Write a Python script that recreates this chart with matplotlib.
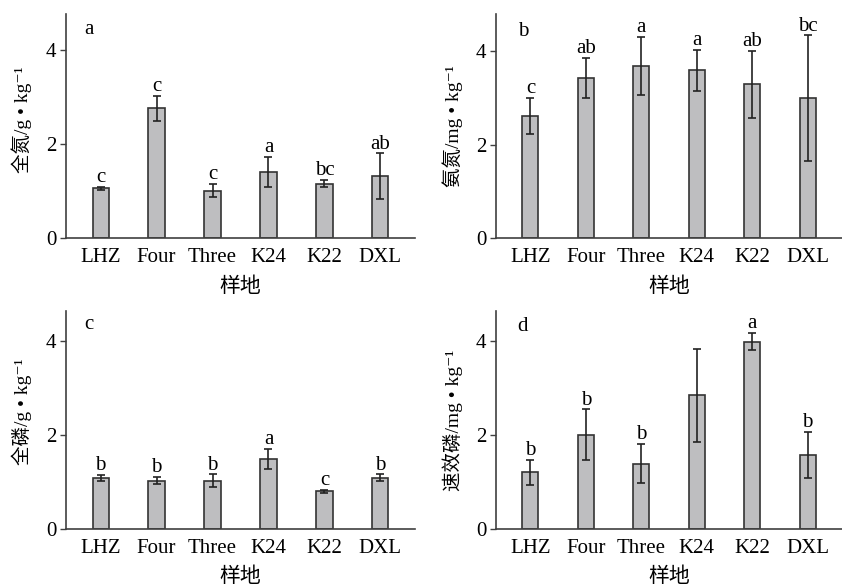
import matplotlib
matplotlib.use("Agg")
import matplotlib.pyplot as plt
import numpy as np

plt.rcParams['font.family'] = ['Liberation Serif', 'Noto Sans CJK SC', 'DejaVu Sans']

sites = ["LHZ", "Four", "Three", "K24", "K22", "DXL"]

# a: total nitrogen
tn_mean = [1.06, 2.76, 1.01, 1.40, 1.16, 1.31]
tn_err = [0.03, 0.27, 0.14, 0.32, 0.08, 0.49]
tn_sig = ["c", "c", "c", "a", "bc", "ab"]

# b: ammonium nitrogen
an_mean = [2.62, 3.42, 3.69, 3.59, 3.29, 3.00]
an_err = [0.39, 0.43, 0.62, 0.44, 0.72, 1.34]
an_sig = ["c", "ab", "a", "a", "ab", "bc"]

# c: total phosphorus
tp_mean = [1.08, 1.03, 1.03, 1.49, 0.80, 1.09]
tp_err = [0.07, 0.07, 0.13, 0.21, 0.035, 0.07]
tp_sig = ["b", "b", "b", "a", "c", "b"]

# d: available phosphorus
ap_mean = [1.20, 2.00, 1.39, 2.84, 3.98, 1.58]
ap_err = [0.26, 0.54, 0.41, 0.99, 0.18, 0.49]
ap_sig = ["b", "b", "b", "", "a", "b"]

ylabels = ["全氮/g • kg⁻¹", "氨氮/mg • kg⁻¹", "全磷/g • kg⁻¹", "速效磷/mg • kg⁻¹"]
panel_tags = ["a", "b", "c", "d"]

W, H = 842, 587
# axes boxes in pixels: left, top, right, bottom
boxes = [(66, 14, 415, 238), (496, 14, 842, 238),
         (66, 311, 415, 529), (496, 311, 842, 529)]
ytops = [4.77, 4.8, 4.63, 4.63]
label_y = [0.527, 0.5, 0.54, 0.50]
label_x = [-0.098, -0.095, -0.097, -0.095]
tag_pos = [(0.066, 0.93), (0.078, 0.92), (0.066, 0.94), (0.078, 0.927)]

panels = [(tn_mean, tn_err, tn_sig), (an_mean, an_err, an_sig),
          (tp_mean, tp_err, tp_sig), (ap_mean, ap_err, ap_sig)]

fig = plt.figure(figsize=(W / 100, H / 100), dpi=100)

x = np.arange(len(sites))
for i, (means, errs, sig) in enumerate(panels):
    l, t, r, b = boxes[i]
    ax = fig.add_axes([l / W, 1 - b / H, (r - l) / W, (b - t) / H])
    ax.bar(x, means, width=0.29, color='#bebec0', edgecolor='#333333',
           linewidth=1.2, yerr=errs, capsize=3,
           error_kw=dict(elinewidth=1.2, capthick=1.2, ecolor='#222222'))
    for xi, m, e, s in zip(x, means, errs, sig):
        ax.annotate(s, (xi, m + e), xytext=(0, 3.5), textcoords='offset points',
                    ha='center', va='baseline', fontsize=15)
    ax.set_xlim(-0.62, 5.62)
    ax.set_ylim(0, ytops[i])
    ax.set_yticks([0, 2, 4])
    ax.set_xticks(x)
    ax.set_xticklabels(sites)
    for side in ['top', 'right']:
        ax.spines[side].set_visible(False)
    for side in ['left', 'bottom']:
        ax.spines[side].set_color('#404040')
        ax.spines[side].set_linewidth(1.2)
    ax.tick_params(axis='x', length=0, pad=7, labelsize=15)
    ax.tick_params(axis='y', length=4, width=1, color='#404040', pad=3, labelsize=15)
    ax.set_ylabel(ylabels[i], fontsize=14)
    ax.yaxis.set_label_coords(label_x[i], label_y[i])
    ax.set_xlabel("样地", fontsize=15)
    ax.xaxis.set_label_coords(0.5, -0.175)
    ax.text(tag_pos[i][0], tag_pos[i][1], panel_tags[i], transform=ax.transAxes,
            ha='center', va='center', fontsize=15)

fig.savefig("out.png", dpi=100)
